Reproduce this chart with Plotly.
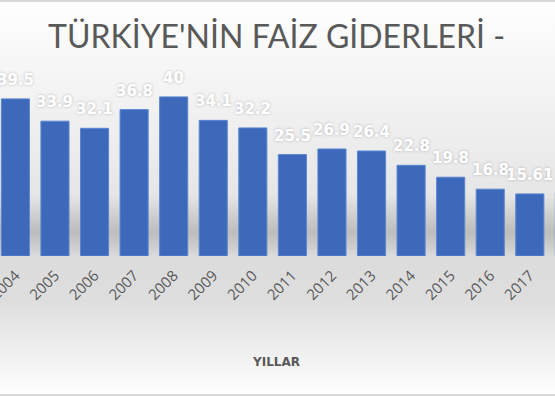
import base64
import plotly.graph_objects as go

years = ["2004", "2005", "2006", "2007", "2008", "2009", "2010", "2011",
         "2012", "2013", "2014", "2015", "2016", "2017", "2018"]
values = [39.5, 33.9, 32.1, 36.8, 40, 34.1, 32.2, 25.5,
          26.9, 26.4, 22.8, 19.8, 16.8, 15.61, 16]

title_text = "TÜRKİYE'NİN FAİZ GİDERLERİ -"
x_title = "YILLAR"

W, H = 555, 396
ML, MR, MT, MB = 0, 0, 77, 140
PH = H - MT - MB

svg = f'''<svg xmlns="http://www.w3.org/2000/svg" width="{W}" height="{H}" viewBox="0 0 {W} {H}">
<defs>
<linearGradient id="g" x1="0" y1="0" x2="0" y2="1">
<stop offset="0" stop-color="#ffffff"/>
<stop offset="0.15" stop-color="#f7f7f7"/>
<stop offset="0.40" stop-color="#ebebeb"/>
<stop offset="0.66" stop-color="#dcdcdc"/>
<stop offset="0.76" stop-color="#dedede"/>
<stop offset="0.88" stop-color="#eeeeee"/>
<stop offset="1" stop-color="#ffffff"/>
</linearGradient>
<linearGradient id="s" x1="0" y1="0" x2="0" y2="1">
<stop offset="0" stop-color="#000" stop-opacity="0"/>
<stop offset="0.6" stop-color="#000" stop-opacity="0.16"/>
<stop offset="0.85" stop-color="#000" stop-opacity="0.07"/>
<stop offset="1" stop-color="#000" stop-opacity="0"/>
</linearGradient>
</defs>
<rect x="0" y="0" width="{W}" height="{H}" fill="url(#g)"/>
<rect x="0" y="195" width="{W}" height="62" fill="url(#s)"/>
<rect x="0" y="0" width="{W}" height="2" fill="#d9d9d9"/>
<rect x="0" y="{H-2}" width="{W}" height="2" fill="#d9d9d9"/>
</svg>'''
src = "data:image/svg+xml;base64," + base64.b64encode(svg.encode()).decode()

fig = go.Figure()
fig.add_trace(go.Bar(
    x=years, y=values,
    marker=dict(color="#3d69bb", line=dict(color="#5a86d2", width=1)),
    cliponaxis=False,
))

# category axis: annotations use the category serial number
label_annots = [
    dict(x=i, y=v, xref="x", yref="y", text=str(v), showarrow=False,
         xanchor="center", yanchor="bottom", yshift=8,
         font=dict(family="DejaVu Sans", size=15, color="white", weight="bold",
                   shadow="0px 0px 3px rgba(0,0,0,0.25)"))
    for i, v in enumerate(values)
]

step = 39.57
x0 = -15.4 / step
x1 = x0 + W / step

fig.update_layout(
    width=W, height=H,
    margin=dict(l=ML, r=MR, t=MT, b=MB, pad=0, autoexpand=False),
    paper_bgcolor="white",
    plot_bgcolor="rgba(0,0,0,0)",
    bargap=0.29,
    showlegend=False,
    images=[dict(source=src, xref="paper", yref="paper",
                 x=0, y=1 + MT / PH, sizex=1, sizey=H / PH,
                 xanchor="left", yanchor="top", sizing="stretch",
                 layer="below")],
    annotations=label_annots + [
        dict(text=title_text, xref="paper", yref="paper", x=0.498,
             y=1 + (MT - 36) / PH, xanchor="center", yanchor="middle",
             showarrow=False,
             font=dict(family="Lato", size=32, color="#595959")),
        dict(text=x_title, xref="paper", yref="paper", x=0.497,
             y=-(362 - MT - PH) / PH, xanchor="center", yanchor="middle",
             showarrow=False,
             font=dict(family="DejaVu Sans", size=12, color="#595959", weight="bold")),
    ],
)
fig.update_xaxes(type="category", range=[x0, x1], tickangle=-45,
                 automargin=False, ticklabelstandoff=7,
                 showline=False, showgrid=False, ticks="",
                 tickfont=dict(family="Open Sans", size=15, color="#595959"))
fig.update_yaxes(range=[0, 45], visible=False, automargin=False)

fig.write_html("out.html")
